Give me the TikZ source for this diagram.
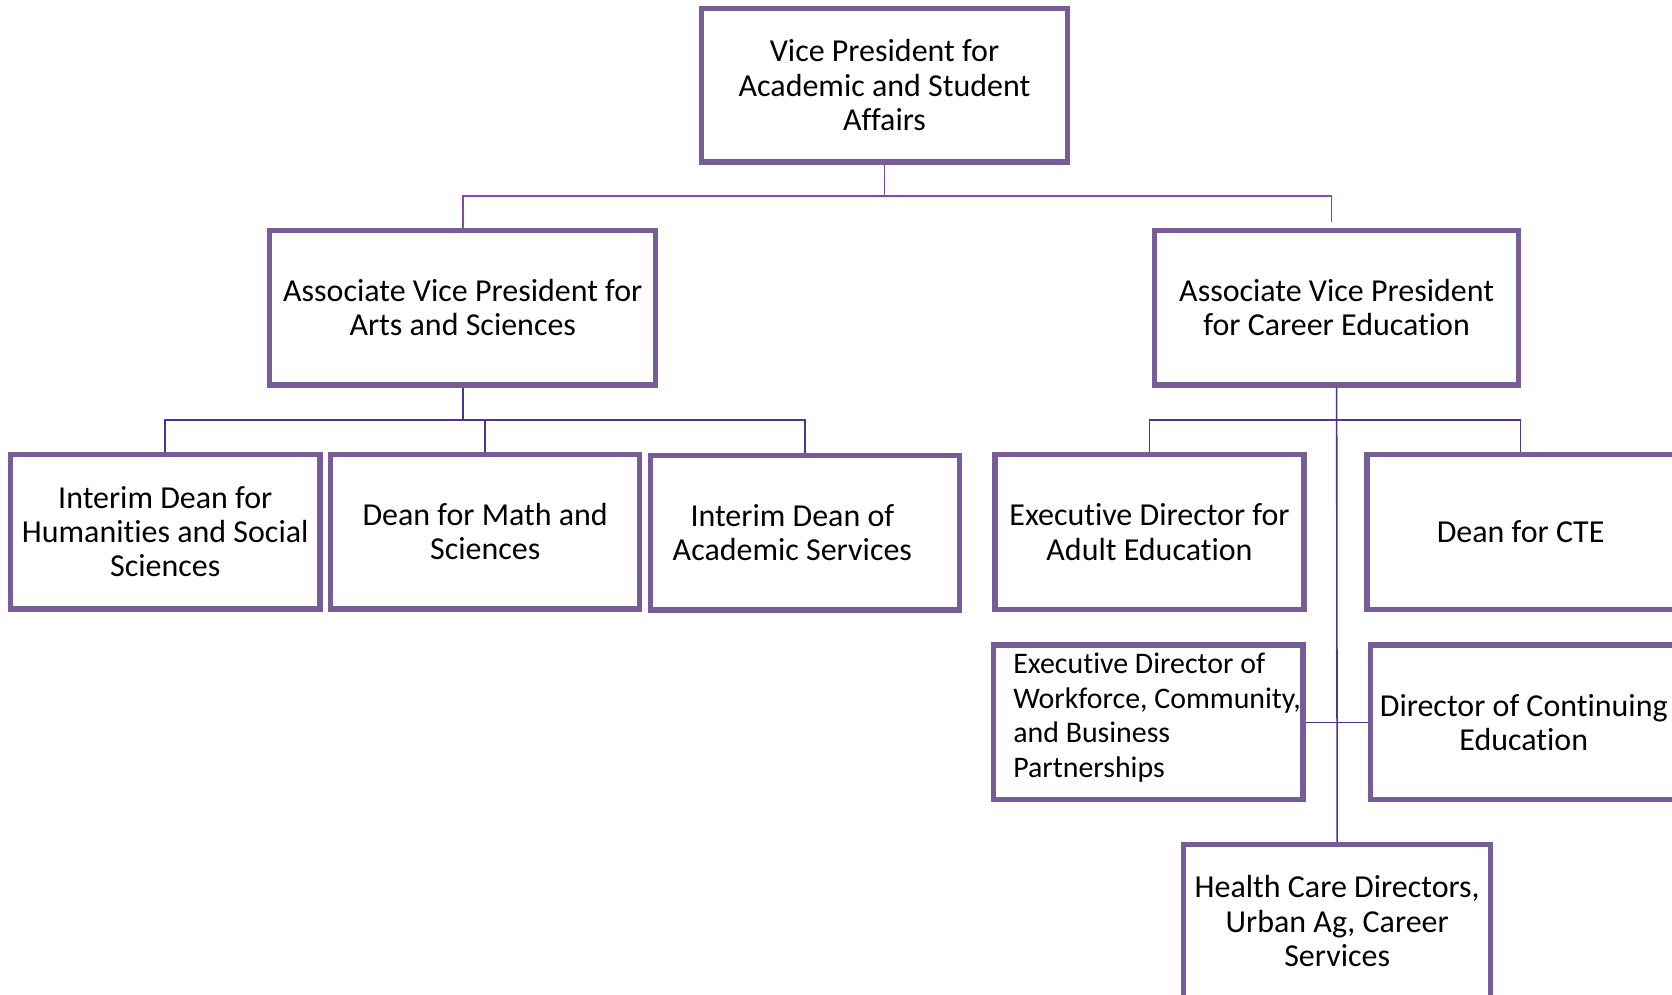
\documentclass[tikz,border=0pt]{standalone}
\usepackage{fontspec}
\setmainfont{Carlito}[Ligatures=NoCommon]
\usetikzlibrary{calc}
\def\k{0.021326}
\definecolor{boxc}{HTML}{785C98}
\definecolor{conntop}{HTML}{8048B0}
\definecolor{connlow}{HTML}{4E3296}
\tikzset{
  box/.style={draw=boxc, line width=3pt, rectangle, fill=white, align=center,
    font=\fontsize{18.2}{19.6}\selectfont, text=black,
    minimum width=290*\k cm, minimum height=145*\k cm, inner sep=2pt},
  conna/.style={draw=conntop, line width=0.9pt},
  connb/.style={draw=connlow, line width=0.9pt}
}
\begin{document}
\begin{tikzpicture}[x=\k cm, y=-\k cm]
\clip (0,0) rectangle (1568,933);
\fill[white] (0,0) rectangle (1568,933);
\coordinate (bus1) at (0,184);
\coordinate (bus2) at (0,394);
\node[box, minimum width=343*\k cm, minimum height=144*\k cm] (vp) at (829.5,80) {Vice President for\\Academic and Student\\Affairs};
\node[box, minimum width=362*\k cm] (avpL) at (434,288.5) {Associate Vice President for\\Arts and Sciences};
\node[box, minimum width=341*\k cm] (avpR) at (1253.5,288.5) {Associate Vice President\\for Career Education};
\node[box] (c1) at (155,498.5) {Interim Dean for\\Humanities and Social\\Sciences};
\node[box] (c2) at (455,498.5) {Dean for Math and\\Sciences};
\node[box] (c3) at (755,499.5) {\hspace*{-0.51cm}Interim Dean of\\\hspace*{-0.51cm}Academic Services};
\node[box] (ead) at (1078,499) {Executive Director for\\Adult Education};
\node[box, minimum width=288*\k cm] (cte) at (1426,499) {Dean for CTE};
\node[box] (wf) at (1077,677.5) {};
\node[anchor=west, align=left, inner sep=0pt, font=\fontsize{17}{19.6}\selectfont] (wft) at (950,673) {Executive Director of\\Workforce, Community,\\and Business\\Partnerships};
\node[box, minimum width=288*\k cm] (dce) at (1429,677.5) {Director of Continuing\\Education};
\node[box, minimum width=288*\k cm, minimum height=144*\k cm] (hc) at (1254,864) {Health Care Directors,\\Urban Ag, Career\\Services};
\draw[conna] (vp.south) -- (vp.south |- bus1);
\draw[conna] (avpL.north) |- ($(avpR.north |- bus1)+(-5,0)$) -- ($(avpR.north)+(-5,-5)$);
\draw[connb] (avpL.south) -- (avpL.south |- bus2);
\draw[connb] (c1.north) |- (c3.north |- bus2) -- (c3.north);
\draw[connb] (c2.north) -- (c2.north |- bus2);
\draw[connb] (avpR.south) -- (hc.north);
\draw[connb] (ead.north) |- (cte.north |- bus2) -- (cte.north);
\draw[connb] (wf.east) -- (dce.west);
\end{tikzpicture}
\end{document}
